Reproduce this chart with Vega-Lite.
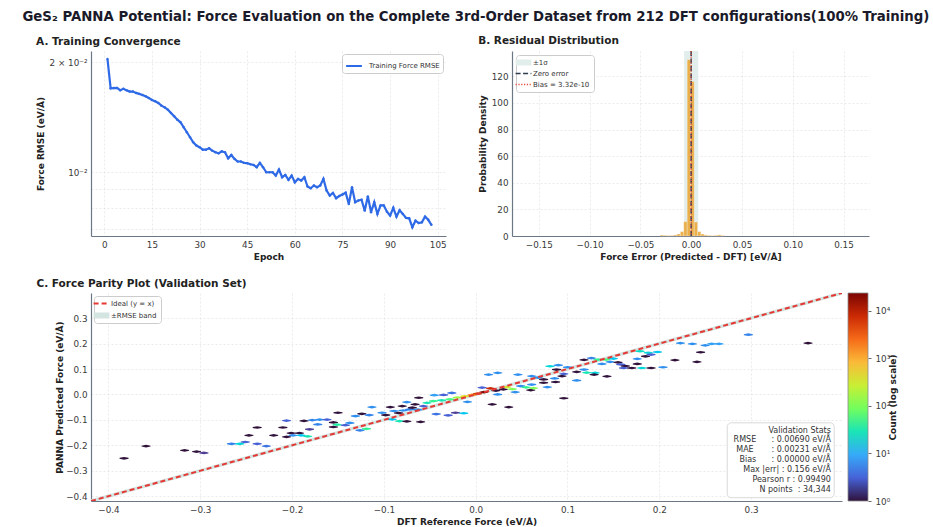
{
  "$schema": "https://vega.github.io/schema/vega-lite/v6.json",
  "padding": {"left": 22, "top": 10, "right": 5, "bottom": 5},
  "background": "white",
  "title": {"text": "GeS₂ PANNA Potential: Force Evaluation on the Complete 3rd-Order Dataset from 212 DFT configurations(100% Training)", "anchor": "middle", "fontSize": 13.3, "offset": 12, "dx": 9, "color": "#1a1a2a"},
  "spacing": 16,
  "resolve": {"scale": {"color": "independent", "fill": "independent"}, "legend": {"color": "independent", "fill": "independent"}},
  "vconcat": [
    {
      "spacing": 31,
      "resolve": {"scale": {"color": "independent"}, "legend": {"color": "independent"}},
      "hconcat": [
        {
          "width": 355, "height": 185,
          "title": "A. Training Convergence",
          "data": {"values": [
            {"epoch":1,"rmse":0.02042},{"epoch":2,"rmse":0.01698},{"epoch":3,"rmse":0.0170},{"epoch":4,"rmse":0.01702},{"epoch":5,"rmse":0.01677},
            {"epoch":6,"rmse":0.01692},{"epoch":7,"rmse":0.01677},{"epoch":8,"rmse":0.01663},{"epoch":9,"rmse":0.01663},{"epoch":10,"rmse":0.01649},
            {"epoch":11,"rmse":0.01639},{"epoch":12,"rmse":0.01628},{"epoch":13,"rmse":0.01614},{"epoch":14,"rmse":0.01598},{"epoch":15,"rmse":0.01578},
            {"epoch":16,"rmse":0.01564},{"epoch":17,"rmse":0.01548},{"epoch":18,"rmse":0.01522},{"epoch":19,"rmse":0.01506},{"epoch":20,"rmse":0.01484},
            {"epoch":21,"rmse":0.01453},{"epoch":22,"rmse":0.01423},{"epoch":23,"rmse":0.01393},{"epoch":24,"rmse":0.01370},{"epoch":25,"rmse":0.01328},
            {"epoch":26,"rmse":0.01287},{"epoch":27,"rmse":0.01247},{"epoch":28,"rmse":0.01208},{"epoch":29,"rmse":0.01183},{"epoch":30,"rmse":0.01171},
            {"epoch":31,"rmse":0.01153},{"epoch":32,"rmse":0.01153},{"epoch":33,"rmse":0.01163},{"epoch":34,"rmse":0.01146},{"epoch":35,"rmse":0.01134},
            {"epoch":36,"rmse":0.01127},{"epoch":37,"rmse":0.01141},{"epoch":38,"rmse":0.01134},{"epoch":39,"rmse":0.01092},{"epoch":40,"rmse":0.01115},
            {"epoch":41,"rmse":0.01088},{"epoch":42,"rmse":0.01070},{"epoch":43,"rmse":0.01070},{"epoch":44,"rmse":0.01061},{"epoch":45,"rmse":0.01059},
            {"epoch":46,"rmse":0.01052},{"epoch":47,"rmse":0.01047},{"epoch":48,"rmse":0.01032},{"epoch":49,"rmse":0.01061},{"epoch":50,"rmse":0.01032},
            {"epoch":51,"rmse":0.01000},{"epoch":52,"rmse":0.01000},{"epoch":53,"rmse":0.01000},{"epoch":54,"rmse":0.00979},{"epoch":55,"rmse":0.01017},
            {"epoch":56,"rmse":0.00969},{"epoch":57,"rmse":0.00983},{"epoch":58,"rmse":0.00953},{"epoch":59,"rmse":0.00979},{"epoch":60,"rmse":0.00939},
            {"epoch":61,"rmse":0.00959},{"epoch":62,"rmse":0.00949},{"epoch":63,"rmse":0.00969},{"epoch":64,"rmse":0.00914},{"epoch":65,"rmse":0.00904},
            {"epoch":66,"rmse":0.00920},{"epoch":67,"rmse":0.00910},{"epoch":68,"rmse":0.00920},{"epoch":69,"rmse":0.00959},{"epoch":70,"rmse":0.00891},
            {"epoch":71,"rmse":0.00863},{"epoch":72,"rmse":0.00878},{"epoch":73,"rmse":0.00849},{"epoch":74,"rmse":0.00861},{"epoch":75,"rmse":0.00869},
            {"epoch":76,"rmse":0.00879},{"epoch":77,"rmse":0.00819},{"epoch":78,"rmse":0.00910},{"epoch":79,"rmse":0.00828},{"epoch":80,"rmse":0.00837},
            {"epoch":81,"rmse":0.00841},{"epoch":82,"rmse":0.00785},{"epoch":83,"rmse":0.00859},{"epoch":84,"rmse":0.00777},{"epoch":85,"rmse":0.00828},
            {"epoch":86,"rmse":0.00769},{"epoch":87,"rmse":0.00811},{"epoch":88,"rmse":0.00811},{"epoch":89,"rmse":0.00780},{"epoch":90,"rmse":0.00761},
            {"epoch":91,"rmse":0.00799},{"epoch":92,"rmse":0.00756},{"epoch":93,"rmse":0.00787},{"epoch":94,"rmse":0.00769},{"epoch":95,"rmse":0.00750},
            {"epoch":96,"rmse":0.00748},{"epoch":97,"rmse":0.00707},{"epoch":98,"rmse":0.00737},{"epoch":99,"rmse":0.00726},{"epoch":100,"rmse":0.00729},
            {"epoch":101,"rmse":0.00756},{"epoch":102,"rmse":0.00741},{"epoch":103,"rmse":0.00718}
          ]},
          "mark": {"type": "line", "strokeWidth": 2.2, "point": {"filled": true, "size": 6}},
          "encoding": {
            "x": {"field": "epoch", "type": "quantitative", "scale": {"domain": [-4.19, 107.6], "nice": false, "zero": false},
                  "axis": {"values": [0, 15, 30, 45, 60, 75, 90, 105], "title": "Epoch"}},
            "y": {"field": "rmse", "type": "quantitative", "scale": {"type": "log", "domain": [0.00669, 0.02148], "nice": false},
                  "axis": {"values": [0.007, 0.008, 0.009, 0.01, 0.02], "labelExpr": "datum.value == 0.01 ? '10⁻²' : datum.value == 0.02 ? '2 × 10⁻²' : ''", "title": "Force RMSE (eV/Å)"}},
            "color": {"datum": "Training Force RMSE", "type": "nominal", "scale": {"range": ["#2f6ae6"]},
                      "legend": {"orient": "top-right", "title": null, "offset": 3, "padding": 3, "symbolType": "stroke", "symbolStrokeWidth": 2,
                                 "encode": {"symbols": {"update": {"shape": {"value": "stroke"}, "fill": {"value": "transparent"}, "strokeWidth": {"value": 2}}}}}}
          }
        },
        {
          "width": 357, "height": 185,
          "title": "B. Residual Distribution",
          "layer": [
            {
              "data": {"values": [{}]},
              "mark": {"type": "rect"},
              "encoding": {
                "x": {"datum": -0.0069, "type": "quantitative", "scale": {"domain": [-0.1764, 0.1751], "nice": false, "zero": false},
                      "axis": {"values": [-0.15, -0.1, -0.05, 0, 0.05, 0.1, 0.15], "format": ".2f", "labelExpr": "replace(datum.label, '-', '−')", "title": "Force Error (Predicted - DFT) [eV/Å]"}},
                "x2": {"datum": 0.0069},
                "color": {"datum": "±1σ", "type": "nominal",
                          "scale": {"domain": ["±1σ", "Zero error", "Bias = 3.32e-10"], "range": ["#e1eeec", "#2c3e50", "#e74c3c"]},
                          "legend": {"orient": "top-left", "title": null, "offset": 4,
                                     "encode": {"symbols": {"update": {
                                       "shape": {"signal": "datum.label == '±1σ' ? 'M-1,-0.38L1,-0.38L1,0.38L-1,0.38Z' : 'stroke'"},
                                       "fill": {"signal": "datum.label == '±1σ' ? '#e1eeec' : 'transparent'"},
                                       "strokeDash": {"signal": "datum.label == 'Zero error' ? [5, 2.5] : datum.label == 'Bias = 3.32e-10' ? [1.2, 1.6] : [1, 0]"},
                                       "strokeWidth": {"signal": "datum.label == '±1σ' ? 0 : 1.5"}}}}}}
              }
            },
            {
              "data": {"values": [
                {"b0":-0.0307,"b1":-0.0273,"d":0.7},{"b0":-0.0273,"b1":-0.0240,"d":0.5},{"b0":-0.0240,"b1":-0.0206,"d":0.3},
                {"b0":-0.0206,"b1":-0.0173,"d":0.4},{"b0":-0.0173,"b1":-0.0140,"d":0.8},{"b0":-0.0140,"b1":-0.0106,"d":1.5},
                {"b0":-0.0106,"b1":-0.0073,"d":3.3},{"b0":-0.0073,"b1":-0.0039,"d":10.8},{"b0":-0.0039,"b1":-0.0006,"d":132.5},
                {"b0":-0.0006,"b1":0.0030,"d":116},{"b0":0.0030,"b1":0.0063,"d":10.5},{"b0":0.0063,"b1":0.0096,"d":3.3},
                {"b0":0.0096,"b1":0.0129,"d":1.5},{"b0":0.0129,"b1":0.0162,"d":0.7},{"b0":0.0162,"b1":0.0195,"d":0.4},
                {"b0":0.0195,"b1":0.0228,"d":0.3},{"b0":0.0228,"b1":0.0261,"d":0.5},{"b0":0.0261,"b1":0.0295,"d":0.8},
                {"b0":0.0295,"b1":0.0328,"d":0.4}
              ]},
              "mark": {"type": "rect", "fill": "#eba83a", "opacity": 0.9, "stroke": "#ffffff", "strokeWidth": 0.3},
              "encoding": {
                "x": {"field": "b0", "type": "quantitative", "scale": {"domain": [-0.1764, 0.1751], "nice": false, "zero": false},
                      "axis": {"values": [-0.15, -0.1, -0.05, 0, 0.05, 0.1, 0.15], "format": ".2f", "labelExpr": "replace(datum.label, '-', '−')", "title": "Force Error (Predicted - DFT) [eV/Å]"}},
                "x2": {"field": "b1"},
                "y": {"field": "d", "type": "quantitative", "scale": {"domain": [0, 139], "nice": false},
                      "axis": {"values": [0, 20, 40, 60, 80, 100, 120], "title": "Probability Density"}},
                "y2": {"datum": 0}
              }
            },
            {
              "data": {"values": [{}]},
              "mark": {"type": "rule", "strokeDash": [5, 2.5], "strokeWidth": 1.5},
              "encoding": {
                "x": {"datum": 0, "type": "quantitative", "scale": {"domain": [-0.1764, 0.1751], "nice": false, "zero": false},
                      "axis": {"values": [-0.15, -0.1, -0.05, 0, 0.05, 0.1, 0.15], "format": ".2f", "labelExpr": "replace(datum.label, '-', '−')", "title": "Force Error (Predicted - DFT) [eV/Å]"}},
                "color": {"datum": "Zero error", "type": "nominal"}
              }
            },
            {
              "data": {"values": [{}]},
              "mark": {"type": "rule", "strokeDash": [1.2, 1.6], "strokeWidth": 1.3},
              "encoding": {
                "x": {"datum": 3.32e-10, "type": "quantitative", "scale": {"domain": [-0.1764, 0.1751], "nice": false, "zero": false},
                      "axis": {"values": [-0.15, -0.1, -0.05, 0, 0.05, 0.1, 0.15], "format": ".2f", "labelExpr": "replace(datum.label, '-', '−')", "title": "Force Error (Predicted - DFT) [eV/Å]"}},
                "color": {"datum": "Bias = 3.32e-10", "type": "nominal"}
              }
            }
          ]
        }
      ]
    },
    {
      "spacing": 5,
      "resolve": {"scale": {"color": "independent", "fill": "independent"}, "legend": {"color": "independent", "fill": "independent"}},
      "hconcat": [
        {
          "width": 751, "height": 208,
          "title": "C. Force Parity Plot (Validation Set)",
          "layer": [
            {
              "data": {"values": [{"x": -0.419, "lo": -0.4259, "hi": -0.4121}, {"x": 0.399, "lo": 0.3921, "hi": 0.4059}]},
              "mark": {"type": "area", "clip": true},
              "encoding": {
                "x": {"field": "x", "type": "quantitative", "scale": {"domain": [-0.419, 0.399], "nice": false, "zero": false},
                      "axis": {"values": [-0.4, -0.3, -0.2, -0.1, 0, 0.1, 0.2, 0.3], "format": ".1f", "labelExpr": "replace(datum.label, '-', '−')", "title": "DFT Reference Force (eV/Å)"}},
                "y": {"field": "lo", "type": "quantitative", "scale": {"domain": [-0.419, 0.399], "nice": false, "zero": false},
                      "axis": {"values": [-0.4, -0.3, -0.2, -0.1, 0, 0.1, 0.2, 0.3], "format": ".1f", "labelExpr": "replace(datum.label, '-', '−')", "title": "PANNA Predicted Force (eV/Å)",
                               "ticks": true, "tickSize": 54, "tickColor": "transparent", "labelPadding": -50, "titleX": -31.7, "titleBaseline": "middle"}},
                "y2": {"field": "hi"},
                "color": {"datum": "±RMSE band", "type": "nominal",
                          "scale": {"domain": ["Ideal (y = x)", "±RMSE band"], "range": ["#e53935", "#d3e4e1"]},
                          "legend": {"orient": "top-left", "title": null, "offset": 3,
                                     "encode": {"symbols": {"update": {
                                       "shape": {"signal": "datum.label == '±RMSE band' ? 'M-1,-0.38L1,-0.38L1,0.38L-1,0.38Z' : 'stroke'"},
                                       "fill": {"signal": "datum.label == '±RMSE band' ? '#d3e4e1' : 'transparent'"},
                                       "strokeDash": {"signal": "datum.label == 'Ideal (y = x)' ? [5, 3] : [1, 0]"},
                                       "strokeWidth": {"signal": "datum.label == '±RMSE band' ? 0 : 2"}}}}}}
              }
            },
            {
              "data": {"values": [
                {"x":-0.383,"y":-0.251,"n":1},{"x":-0.359,"y":-0.203,"n":1},{"x":-0.317,"y":-0.220,"n":1},{"x":-0.304,"y":-0.225,"n":1},
                {"x":-0.296,"y":-0.230,"n":2},{"x":-0.266,"y":-0.194,"n":5},{"x":-0.257,"y":-0.194,"n":20},{"x":-0.251,"y":-0.187,"n":3},
                {"x":-0.247,"y":-0.161,"n":1},{"x":-0.238,"y":-0.194,"n":3},{"x":-0.238,"y":-0.130,"n":1},{"x":-0.228,"y":-0.203,"n":4},
                {"x":-0.220,"y":-0.161,"n":1},{"x":-0.210,"y":-0.130,"n":1},{"x":-0.206,"y":-0.103,"n":3},{"x":-0.206,"y":-0.167,"n":1},
                {"x":-0.201,"y":-0.152,"n":1},{"x":-0.192,"y":-0.152,"n":1},{"x":-0.199,"y":-0.161,"n":6},{"x":-0.190,"y":-0.161,"n":15},
                {"x":-0.183,"y":-0.165,"n":30},{"x":-0.187,"y":-0.104,"n":1},{"x":-0.181,"y":-0.137,"n":2},{"x":-0.178,"y":-0.101,"n":5},
                {"x":-0.170,"y":-0.099,"n":6},{"x":-0.172,"y":-0.118,"n":5},{"x":-0.162,"y":-0.099,"n":3},{"x":-0.155,"y":-0.110,"n":1},
                {"x":-0.150,"y":-0.072,"n":1},{"x":-0.151,"y":-0.119,"n":40},{"x":-0.142,"y":-0.121,"n":3},{"x":-0.137,"y":-0.112,"n":6},
                {"x":-0.155,"y":-0.128,"n":1},{"x":-0.131,"y":-0.085,"n":6},{"x":-0.126,"y":-0.141,"n":5},{"x":-0.124,"y":-0.076,"n":1},
                {"x":-0.116,"y":-0.081,"n":5},{"x":-0.119,"y":-0.135,"n":50},{"x":-0.113,"y":-0.050,"n":6},{"x":-0.102,"y":-0.072,"n":6},
                {"x":-0.098,"y":-0.081,"n":1},{"x":-0.093,"y":-0.050,"n":1},{"x":-0.091,"y":-0.098,"n":15},{"x":-0.083,"y":-0.105,"n":30},
                {"x":-0.089,"y":-0.065,"n":6},{"x":-0.084,"y":-0.073,"n":1},{"x":-0.079,"y":-0.063,"n":6},{"x":-0.075,"y":-0.106,"n":1},
                {"x":-0.072,"y":-0.059,"n":5},{"x":-0.075,"y":-0.030,"n":6},{"x":-0.080,"y":-0.046,"n":1},{"x":-0.069,"y":-0.052,"n":1},
                {"x":-0.066,"y":-0.039,"n":1},{"x":-0.063,"y":-0.060,"n":6},{"x":-0.062,"y":-0.013,"n":1},{"x":-0.060,"y":-0.108,"n":1},
                {"x":-0.057,"y":-0.046,"n":3},{"x":-0.053,"y":-0.033,"n":30},{"x":-0.045,"y":-0.003,"n":8},{"x":-0.043,"y":-0.077,"n":4},
                {"x":-0.046,"y":-0.026,"n":50},{"x":-0.037,"y":-0.023,"n":30},{"x":-0.035,"y":-0.002,"n":3},{"x":-0.030,"y":-0.082,"n":3},
                {"x":-0.028,"y":-0.019,"n":60},{"x":-0.026,"y":0.006,"n":4},{"x":-0.022,"y":-0.072,"n":2},{"x":-0.020,"y":-0.012,"n":150},
                {"x":-0.013,"y":-0.074,"n":15},{"x":-0.012,"y":-0.007,"n":400},{"x":-0.009,"y":-0.029,"n":6},{"x":-0.004,"y":-0.002,"n":1500},
                {"x":0.002,"y":0.003,"n":6000},{"x":0.009,"y":0.009,"n":20000},{"x":0.016,"y":0.024,"n":8000},{"x":0.007,"y":0.027,"n":3},
                {"x":0.014,"y":0.078,"n":6},{"x":0.024,"y":0.085,"n":6},{"x":0.018,"y":-0.039,"n":1},{"x":0.022,"y":0.015,"n":1},
                {"x":0.024,"y":0.000,"n":6},{"x":0.030,"y":0.020,"n":1},{"x":0.034,"y":0.029,"n":300},{"x":0.036,"y":-0.050,"n":1},
                {"x":0.040,"y":0.021,"n":100},{"x":0.043,"y":0.009,"n":6},{"x":0.046,"y":0.078,"n":6},{"x":0.049,"y":0.033,"n":6},
                {"x":0.055,"y":0.028,"n":50},{"x":0.060,"y":0.017,"n":1},{"x":0.061,"y":0.072,"n":6},{"x":0.063,"y":0.025,"n":100},
                {"x":0.061,"y":0.039,"n":6},{"x":0.068,"y":0.066,"n":6},{"x":0.074,"y":0.059,"n":1},{"x":0.074,"y":0.046,"n":1},
                {"x":0.078,"y":0.029,"n":6},{"x":0.081,"y":0.111,"n":20},{"x":0.090,"y":0.115,"n":6},{"x":0.088,"y":0.098,"n":1},
                {"x":0.094,"y":0.072,"n":1},{"x":0.087,"y":0.049,"n":1},{"x":0.086,"y":0.063,"n":6},{"x":0.096,"y":0.081,"n":3},
                {"x":0.096,"y":-0.015,"n":1},{"x":0.100,"y":0.107,"n":6},{"x":0.110,"y":0.055,"n":6},{"x":0.110,"y":0.089,"n":1},
                {"x":0.118,"y":0.098,"n":6},{"x":0.121,"y":0.086,"n":30},{"x":0.130,"y":0.085,"n":20},{"x":0.129,"y":0.078,"n":1},
                {"x":0.118,"y":0.136,"n":1},{"x":0.126,"y":0.143,"n":5},{"x":0.133,"y":0.137,"n":50},{"x":0.142,"y":0.137,"n":60},
                {"x":0.150,"y":0.141,"n":15},{"x":0.143,"y":0.071,"n":1},{"x":0.1375,"y":0.120,"n":6},{"x":0.1465,"y":0.128,"n":6},
                {"x":0.155,"y":0.126,"n":1},{"x":0.158,"y":0.118,"n":3},{"x":0.163,"y":0.112,"n":1},{"x":0.161,"y":0.104,"n":3},
                {"x":0.170,"y":0.104,"n":1},{"x":0.176,"y":0.120,"n":1},{"x":0.176,"y":0.140,"n":6},{"x":0.181,"y":0.104,"n":20},
                {"x":0.179,"y":0.170,"n":25},{"x":0.188,"y":0.164,"n":20},{"x":0.198,"y":0.167,"n":15},{"x":0.185,"y":0.150,"n":1},
                {"x":0.191,"y":0.157,"n":3},{"x":0.191,"y":0.104,"n":1},{"x":0.204,"y":0.107,"n":6},{"x":0.217,"y":0.135,"n":1},
                {"x":0.223,"y":0.202,"n":6},{"x":0.236,"y":0.199,"n":6},{"x":0.245,"y":0.166,"n":1},{"x":0.241,"y":0.128,"n":1},
                {"x":0.250,"y":0.193,"n":6},{"x":0.257,"y":0.199,"n":8},{"x":0.265,"y":0.199,"n":8},{"x":0.297,"y":0.235,"n":5},
                {"x":0.362,"y":0.202,"n":1}
              ]},
              "mark": {"type": "point", "filled": true, "opacity": 1, "strokeWidth": 0, "size": 81,
                       "shape": "M0,-0.3L1,-0.1L1,0.1L0,0.3L-1,0.1L-1,-0.1Z"},
              "encoding": {
                "x": {"field": "x", "type": "quantitative", "scale": {"domain": [-0.419, 0.399], "nice": false, "zero": false},
                      "axis": {"values": [-0.4, -0.3, -0.2, -0.1, 0, 0.1, 0.2, 0.3], "format": ".1f", "labelExpr": "replace(datum.label, '-', '−')", "title": "DFT Reference Force (eV/Å)"}},
                "y": {"field": "y", "type": "quantitative", "scale": {"domain": [-0.419, 0.399], "nice": false, "zero": false},
                      "axis": {"values": [-0.4, -0.3, -0.2, -0.1, 0, 0.1, 0.2, 0.3], "format": ".1f", "labelExpr": "replace(datum.label, '-', '−')", "title": "PANNA Predicted Force (eV/Å)",
                               "ticks": true, "tickSize": 54, "tickColor": "transparent", "labelPadding": -50, "titleX": -31.7, "titleBaseline": "middle"}},
                "fill": {"field": "n", "type": "quantitative",
                         "scale": {"type": "log", "domain": [1, 23600], "range": ["#30123b", "#4662d7", "#36aaf9", "#1ae4b6", "#72fe5e", "#c8ef34", "#faba39", "#f66b19", "#cb2a04", "#7a0403"]},
                         "legend": null}
              }
            },
            {
              "data": {"values": [{"x": -0.419}, {"x": 0.399}]},
              "mark": {"type": "line", "strokeDash": [5, 3], "strokeWidth": 2, "clip": true},
              "encoding": {
                "x": {"field": "x", "type": "quantitative", "scale": {"domain": [-0.419, 0.399], "nice": false, "zero": false},
                      "axis": {"values": [-0.4, -0.3, -0.2, -0.1, 0, 0.1, 0.2, 0.3], "format": ".1f", "labelExpr": "replace(datum.label, '-', '−')", "title": "DFT Reference Force (eV/Å)"}},
                "y": {"field": "x", "type": "quantitative", "scale": {"domain": [-0.419, 0.399], "nice": false, "zero": false},
                      "axis": {"values": [-0.4, -0.3, -0.2, -0.1, 0, 0.1, 0.2, 0.3], "format": ".1f", "labelExpr": "replace(datum.label, '-', '−')", "title": "PANNA Predicted Force (eV/Å)",
                               "ticks": true, "tickSize": 54, "tickColor": "transparent", "labelPadding": -50, "titleX": -31.7, "titleBaseline": "middle"}},
                "color": {"datum": "Ideal (y = x)", "type": "nominal"}
              }
            },
            {
              "data": {"values": [{}]},
              "mark": {"type": "rect", "fill": "white", "fillOpacity": 0.85, "stroke": "#cfcfcf", "strokeWidth": 0.8, "cornerRadius": 4},
              "encoding": {
                "x": {"datum": 0.274, "type": "quantitative", "scale": {"domain": [-0.419, 0.399], "nice": false, "zero": false},
                      "axis": {"values": [-0.4, -0.3, -0.2, -0.1, 0, 0.1, 0.2, 0.3], "format": ".1f", "labelExpr": "replace(datum.label, '-', '−')", "title": "DFT Reference Force (eV/Å)"}},
                "x2": {"datum": 0.3905},
                "y": {"datum": -0.1115, "type": "quantitative", "scale": {"domain": [-0.419, 0.399], "nice": false, "zero": false},
                      "axis": {"values": [-0.4, -0.3, -0.2, -0.1, 0, 0.1, 0.2, 0.3], "format": ".1f", "labelExpr": "replace(datum.label, '-', '−')", "title": "PANNA Predicted Force (eV/Å)",
                               "ticks": true, "tickSize": 54, "tickColor": "transparent", "labelPadding": -50, "titleX": -31.7, "titleBaseline": "middle"}},
                "y2": {"datum": -0.406}
              }
            },
            {
              "data": {"values": [{"stats": "Validation Stats\nRMSE\u00a0\u00a0\u00a0\u00a0\u00a0\u00a0: 0.00690 eV/Å\nMAE\u00a0\u00a0\u00a0\u00a0\u00a0\u00a0\u00a0: 0.00231 eV/Å\nBias\u00a0\u00a0\u00a0\u00a0\u00a0\u00a0: 0.00000 eV/Å\nMax |err|\u00a0: 0.156 eV/Å\nPearson r\u00a0: 0.99490\nN points\u00a0\u00a0: 34,344"}]},
              "mark": {"type": "text", "align": "right", "baseline": "top", "fontSize": 8, "lineHeight": 9.9, "lineBreak": "\n", "color": "#333333"},
              "encoding": {
                "x": {"datum": 0.3869, "type": "quantitative", "scale": {"domain": [-0.419, 0.399], "nice": false, "zero": false},
                      "axis": {"values": [-0.4, -0.3, -0.2, -0.1, 0, 0.1, 0.2, 0.3], "format": ".1f", "labelExpr": "replace(datum.label, '-', '−')", "title": "DFT Reference Force (eV/Å)"}},
                "y": {"datum": -0.1264, "type": "quantitative", "scale": {"domain": [-0.419, 0.399], "nice": false, "zero": false},
                      "axis": {"values": [-0.4, -0.3, -0.2, -0.1, 0, 0.1, 0.2, 0.3], "format": ".1f", "labelExpr": "replace(datum.label, '-', '−')", "title": "PANNA Predicted Force (eV/Å)",
                               "ticks": true, "tickSize": 54, "tickColor": "transparent", "labelPadding": -50, "titleX": -31.7, "titleBaseline": "middle"}},
                "text": {"field": "stats", "type": "nominal"}
              }
            }
          ]
        },
        {
          "width": 20, "height": 208,
          "data": {"values": [{}]},
          "mark": {"type": "rect", "stroke": "#8a8a8a", "strokeWidth": 0.8,
                   "fill": {"gradient": "linear", "x1": 0, "y1": 1, "x2": 0, "y2": 0,
                            "stops": [
                              {"offset": 0.0, "color": "#30123b"}, {"offset": 0.1111, "color": "#4662d7"},
                              {"offset": 0.2222, "color": "#36aaf9"}, {"offset": 0.3333, "color": "#1ae4b6"},
                              {"offset": 0.4444, "color": "#72fe5e"}, {"offset": 0.5556, "color": "#c8ef34"},
                              {"offset": 0.6667, "color": "#faba39"}, {"offset": 0.7778, "color": "#f66b19"},
                              {"offset": 0.8889, "color": "#cb2a04"}, {"offset": 1.0, "color": "#7a0403"}]}},
          "encoding": {
            "x": {"datum": 0, "type": "quantitative", "scale": {"domain": [0, 1], "nice": false}, "axis": null},
            "x2": {"datum": 1},
            "y": {"datum": 1, "type": "quantitative", "scale": {"type": "log", "domain": [1, 23600], "nice": false},
                  "axis": {"orient": "right", "values": [1, 10, 100, 1000, 10000], "grid": false, "domain": false, "ticks": true, "tickSize": 3, "tickColor": "#666666",
                           "labelExpr": "datum.value == 1 ? '10⁰' : datum.value == 10 ? '10¹' : datum.value == 100 ? '10²' : datum.value == 1000 ? '10³' : '10⁴'",
                           "title": "Count (log scale)", "titleAngle": 270, "titlePadding": 8}},
            "y2": {"datum": 23600}
          }
        }
      ]
    }
  ],
  "config": {
    "font": "DejaVu Sans",
    "view": {"stroke": null},
    "title": {"anchor": "start", "fontSize": 10.5, "fontWeight": "bold", "color": "#222222", "offset": 4},
    "axis": {"labelFontSize": 8.8, "labelColor": "#3a3a3a", "titleFontSize": 9, "titleFontWeight": "bold", "titleColor": "#222222",
             "domainColor": "#6b7785", "domainWidth": 1.2, "ticks": false, "labelPadding": 4, "titlePadding": 4,
             "grid": true, "gridColor": "#dedede", "gridDash": [2, 2], "gridWidth": 0.6,
             "labelFlush": false, "labelOverlap": false, "labelBound": false},
    "legend": {"labelFontSize": 7, "labelColor": "#333333", "fillColor": "white", "strokeColor": "#cccccc", "padding": 4,
               "cornerRadius": 3, "symbolType": "stroke", "symbolSize": 250, "symbolStrokeWidth": 2, "rowPadding": 3, "labelOffset": 6}
  }
}
